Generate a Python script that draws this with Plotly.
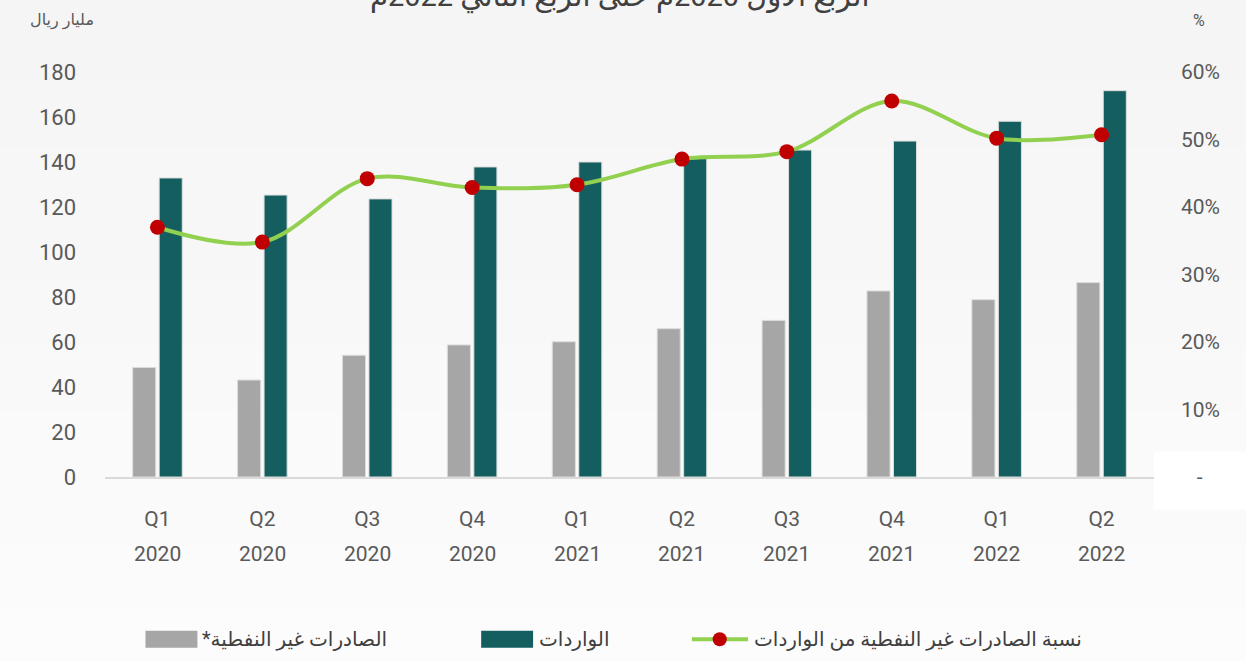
import plotly.graph_objects as go

# quarters, two rows of labels
quarters = ["Q1", "Q2", "Q3", "Q4", "Q1", "Q2", "Q3", "Q4", "Q1", "Q2"]
years = ["2020", "2020", "2020", "2020", "2021", "2021", "2021", "2021", "2022", "2022"]
categories = [q + " " + y for q, y in zip(quarters, years)]

# billion riyals
non_oil_exports = [48.7, 43.1, 54.1, 58.7, 60.1, 65.9, 69.6, 82.7, 78.8, 86.4]
imports = [132.9, 125.3, 123.6, 137.8, 140.0, 141.5, 145.3, 149.3, 158.1, 171.7]
# share of non-oil exports to imports
ratio = [0.370, 0.348, 0.442, 0.429, 0.433, 0.471, 0.482, 0.557, 0.502, 0.507]

left_ticks = list(range(0, 181, 20))
right_ticks = [0, 0.1, 0.2, 0.3, 0.4, 0.5, 0.6]
right_ticktext = ["\u00a0\u00a0\u00a0-", "10%", "20%", "30%", "40%", "50%", "60%"]

name_exports = "الصادرات غير النفطية*"
name_imports = "الواردات"
name_ratio = "نسبة الصادرات غير النفطية من الواردات"
title_text = "الربع الأول 2020م حتى الربع الثاني 2022م"

GRAY = "#a6a6a6"
TEAL = "#145e5f"
GREEN = "#92d050"
RED = "#c00000"
TXT = "#595959"
FONT = "Roboto, DejaVu Sans, sans-serif"

fig = go.Figure()
fig.add_trace(
    go.Bar(
        x=categories,
        y=non_oil_exports,
        name=name_exports,
        marker=dict(color=GRAY, line=dict(color="#dcdcdc", width=1)),
    )
)
fig.add_trace(
    go.Bar(
        x=categories,
        y=imports,
        name=name_imports,
        marker=dict(color=TEAL, line=dict(color="#dcdcdc", width=1)),
    )
)
fig.add_trace(
    go.Scatter(
        x=categories,
        y=ratio,
        name=name_ratio,
        yaxis="y2",
        mode="lines+markers",
        line=dict(color=GREEN, width=4, shape="spline", smoothing=1),
        marker=dict(color=RED, size=15),
    )
)

# soft vertical background shading
shapes = []
n_bands = 12
for i in range(n_bands):
    c = int(245 + (253 - 245) * i / (n_bands - 1))
    shapes.append(
        dict(
            type="rect", xref="paper", yref="paper", layer="below",
            x0=-0.2, x1=1.2,
            y0=1.3 - (i + 1) * 1.95 / n_bands, y1=1.3 - i * 1.95 / n_bands,
            fillcolor="rgb(%d,%d,%d)" % (c, c, c), line=dict(width=0),
        )
    )
# white patch behind the zero label on the right
shapes.append(
    dict(type="rect", xref="paper", yref="paper", layer="below",
         x0=1.0, x1=1.2, y0=-0.08, y1=0.063,
         fillcolor="#ffffff", line=dict(width=0))
)

# manual legend (symbols)
leg_y = -0.4007
shapes += [
    dict(type="rect", xref="paper", yref="paper", x0=0.0386, x1=0.0881,
         y0=leg_y - 0.021, y1=leg_y + 0.021, fillcolor=GRAY, line=dict(width=0)),
    dict(type="rect", xref="paper", yref="paper", x0=0.3586, x1=0.4081,
         y0=leg_y - 0.021, y1=leg_y + 0.021, fillcolor=TEAL, line=dict(width=0)),
    dict(type="line", xref="paper", yref="paper", x0=0.5595, x1=0.6129,
         y0=leg_y, y1=leg_y, line=dict(color=GREEN, width=4)),
    dict(type="circle", xref="paper", yref="paper", x0=0.586 - 0.0067, x1=0.586 + 0.0067,
         y0=leg_y - 0.0173, y1=leg_y + 0.0173, fillcolor=RED, line=dict(width=0)),
]

annotations = [
    dict(text=name_exports + "\u200f", x=0.0910, y=leg_y, xanchor="left"),
    dict(text=name_imports, x=0.4119, y=leg_y, xanchor="left"),
    dict(text=name_ratio, x=0.6167, y=leg_y, xanchor="left"),
]
for a in annotations:
    a.update(xref="paper", yref="paper", yanchor="middle", showarrow=False,
             font=dict(size=20, color="#404040", family=FONT))

# year row under the quarter labels
for c, y in zip(categories, years):
    annotations.append(
        dict(text=y, x=c, xref="x", y=-0.19, yref="paper", yanchor="middle",
             showarrow=False, font=dict(size=21, color=TXT, family=FONT))
    )

annotations += [
    # title is cut by the top edge in the original too
    dict(text=title_text, x=0.491, y=1.19, xref="paper", yref="paper",
         xanchor="center", yanchor="middle", showarrow=False,
         font=dict(size=29, color="#404040", family=FONT)),
    dict(text="مليار ريال", x=-0.0414, y=1.128, xref="paper", yref="paper",
         xanchor="center", yanchor="middle", showarrow=False,
         font=dict(size=16, color=TXT, family=FONT)),
    dict(text="%", x=1.0433, y=1.128, xref="paper", yref="paper",
         xanchor="center", yanchor="middle", showarrow=False,
         font=dict(size=16, color=TXT, family=FONT)),
]

fig.update_layout(
    width=1246,
    height=661,
    margin=dict(l=104.5, r=91.5, t=72, b=183.5, autoexpand=False),
    paper_bgcolor="#f8f8f8",
    plot_bgcolor="rgba(0,0,0,0)",
    barmode="group",
    bargap=0.495,
    bargroupgap=0.13,
    showlegend=False,
    font=dict(family=FONT, color=TXT),
    shapes=shapes,
    annotations=annotations,
    xaxis=dict(
        range=[-0.5, len(categories) - 0.5],
        tickvals=categories,
        ticktext=quarters,
        tickfont=dict(size=21, color=TXT),
        showline=True,
        linecolor="#d9d9d9",
        linewidth=2,
        showgrid=False,
        ticks="",
        ticklabelstandoff=22,
        automargin=False,
    ),
    yaxis=dict(
        range=[0, 180],
        tickvals=left_ticks,
        tickfont=dict(size=22, color=TXT),
        showgrid=False,
        zeroline=False,
        ticklabelstandoff=28,
        automargin=False,
    ),
    yaxis2=dict(
        range=[0, 0.6],
        overlaying="y",
        side="right",
        tickvals=right_ticks,
        ticktext=right_ticktext,
        tickfont=dict(size=21, color=TXT),
        showgrid=False,
        zeroline=False,
        ticklabelstandoff=26,
        automargin=False,
    ),
)

# drop the default page margin so the chart fills the window
fig.write_html(
    "out.html",
    config={"displayModeBar": False},
    post_script="document.body.style.margin = '0';",
)
